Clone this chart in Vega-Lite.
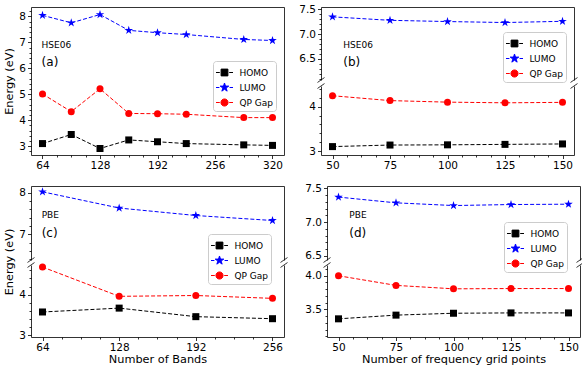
{
"$schema":"https://vega.github.io/schema/vega-lite/v6.json",
"padding":{"left":3,"top":4,"right":0,"bottom":0},
"config":{"font":"DejaVu Sans","view":{"stroke":null},
"axis":{"grid":false,"domainColor":"black","domainWidth":0.8,"tickColor":"black","tickWidth":0.8,"labelColor":"black","labelFontSize":10.5,"labelPadding":2,"labelFont":"DejaVu Sans","labelOverlap":false,"labelFlush":false,"titleFont":"DejaVu Sans","titleFontSize":11.3,"titleFontWeight":"normal","titleColor":"black","titlePadding":4},
"axisX":{"titlePadding":0},
"text":{"font":"DejaVu Sans","color":"black"}},
"datasets":{
"a":[{"n":64,"s":"HOMO","E":3.10},{"n":96,"s":"HOMO","E":3.45},{"n":128,"s":"HOMO","E":2.91},{"n":160,"s":"HOMO","E":3.24},{"n":192,"s":"HOMO","E":3.17},{"n":224,"s":"HOMO","E":3.10},{"n":288,"s":"HOMO","E":3.05},{"n":320,"s":"HOMO","E":3.03},
{"n":64,"s":"LUMO","E":8.04},{"n":96,"s":"LUMO","E":7.75},{"n":128,"s":"LUMO","E":8.07},{"n":160,"s":"LUMO","E":7.46},{"n":192,"s":"LUMO","E":7.37},{"n":224,"s":"LUMO","E":7.30},{"n":288,"s":"LUMO","E":7.11},{"n":320,"s":"LUMO","E":7.07},
{"n":64,"s":"QP Gap","E":5.01},{"n":96,"s":"QP Gap","E":4.33},{"n":128,"s":"QP Gap","E":5.21},{"n":160,"s":"QP Gap","E":4.26},{"n":192,"s":"QP Gap","E":4.25},{"n":224,"s":"QP Gap","E":4.23},{"n":288,"s":"QP Gap","E":4.10},{"n":320,"s":"QP Gap","E":4.10}],
"b":[{"n":50,"s":"HOMO","E":3.10},{"n":75,"s":"HOMO","E":3.135},{"n":100,"s":"HOMO","E":3.14},{"n":125,"s":"HOMO","E":3.15},{"n":150,"s":"HOMO","E":3.16},
{"n":50,"s":"LUMO","E":7.35},{"n":75,"s":"LUMO","E":7.28},{"n":100,"s":"LUMO","E":7.255},{"n":125,"s":"LUMO","E":7.235},{"n":150,"s":"LUMO","E":7.26},
{"n":50,"s":"QP Gap","E":4.25},{"n":75,"s":"QP Gap","E":4.14},{"n":100,"s":"QP Gap","E":4.105},{"n":125,"s":"QP Gap","E":4.09},{"n":150,"s":"QP Gap","E":4.10}],
"c":[{"n":64,"s":"HOMO","E":3.575},{"n":128,"s":"HOMO","E":3.67},{"n":192,"s":"HOMO","E":3.46},{"n":256,"s":"HOMO","E":3.41},
{"n":64,"s":"LUMO","E":8.02},{"n":128,"s":"LUMO","E":7.63},{"n":192,"s":"LUMO","E":7.45},{"n":256,"s":"LUMO","E":7.33},
{"n":64,"s":"QP Gap","E":4.68},{"n":128,"s":"QP Gap","E":3.96},{"n":192,"s":"QP Gap","E":3.98},{"n":256,"s":"QP Gap","E":3.91}],
"d":[{"n":50,"s":"HOMO","E":3.36},{"n":75,"s":"HOMO","E":3.415},{"n":100,"s":"HOMO","E":3.443},{"n":125,"s":"HOMO","E":3.448},{"n":150,"s":"HOMO","E":3.448},
{"n":50,"s":"LUMO","E":7.37},{"n":75,"s":"LUMO","E":7.285},{"n":100,"s":"LUMO","E":7.245},{"n":125,"s":"LUMO","E":7.26},{"n":150,"s":"LUMO","E":7.265},
{"n":50,"s":"QP Gap","E":4.0},{"n":75,"s":"QP Gap","E":3.857},{"n":100,"s":"QP Gap","E":3.806},{"n":125,"s":"QP Gap","E":3.81},{"n":150,"s":"QP Gap","E":3.81}]
},
"resolve":{"scale":{"color":"independent","shape":"independent"},"legend":{"color":"independent","shape":"independent"}},
"spacing":12,
"vconcat":[
{"hconcat":[
{"width":253,"height":148,
"layer":[
{"data":{"name":"a"},"mark":{"type":"line","strokeWidth":1,"strokeDash":[4,2]},
"encoding":{
"x":{"field":"n","type":"quantitative","scale":{"domain":[51.2,332.8],"nice":false,"zero":false},"axis":{"values":[64,80,96,112,128,144,160,176,192,208,224,240,256,272,288,304,320],"labelExpr":"datum.value%64===0?format(datum.value,'d'):''","tickSize":{"condition":{"test":"datum.value%64!==0","value":2},"value":3.5},"title":null}},
"y":{"field":"E","type":"quantitative","scale":{"domain":[2.66,8.36],"nice":false,"zero":false},"axis":{"values":[2.8,3,3.2,3.4,3.6,3.8,4,4.2,4.4,4.6,4.8,5,5.2,5.4,5.6,5.8,6,6.2,6.4,6.6,6.8,7,7.2,7.4,7.6,7.8,8,8.2],"labelExpr":"abs(datum.value-round(datum.value))<0.001?format(datum.value,'d'):''","tickSize":{"condition":{"test":"abs(datum.value-round(datum.value))>0.001","value":2},"value":3.5},"title":"Energy (eV)"}},
"color":{"field":"s","type":"nominal","scale":{"domain":["HOMO","LUMO","QP Gap"],"range":["black","blue","red"]},
"legend":{"orient":"none","legendX":182,"legendY":54,"title":null,"labelFontSize":9,"labelFont":"DejaVu Sans","labelColor":"black","symbolSize":289,"labelOffset":6,"rowPadding":-1.5,"padding":2.5,"strokeColor":"#cccccc","fillColor":"rgba(255,255,255,0.8)","cornerRadius":3,
"encode":{"symbols":{"update":{"shape":{"signal":"datum.value==='HOMO'?'M-1,0H-0.55M0.55,0H1M-0.4,-0.4H0.4V0.4H-0.4Z':datum.value==='LUMO'?'M-1,0H-0.6M0.6,0H1M0,-0.53L0.119,-0.164L0.504,-0.164L0.192,0.063L0.312,0.429L0,0.202L-0.312,0.429L-0.192,0.063L-0.504,-0.164L-0.119,-0.164Z':'M-1,0H-0.55M0.55,0H1M0.42,0A0.42,0.42,0,1,1,-0.42,0A0.42,0.42,0,1,1,0.42,0Z'"},"size":{"value":289},"stroke":{"signal":"datum.value==='HOMO'?'black':datum.value==='LUMO'?'blue':'red'"},"strokeWidth":{"value":1},"opacity":{"value":1}}}}}}}},
{"data":{"name":"a"},"mark":{"type":"point","filled":true,"size":49,"opacity":1},
"encoding":{
"x":{"field":"n","type":"quantitative","scale":{"domain":[51.2,332.8],"nice":false,"zero":false},"axis":{"orient":"top","labels":false,"ticks":false,"title":null}},
"y":{"field":"E","type":"quantitative","scale":{"domain":[2.66,8.36],"nice":false,"zero":false},"axis":{"orient":"right","labels":false,"ticks":false,"title":null}},
"color":{"field":"s","type":"nominal","scale":{"domain":["HOMO","LUMO","QP Gap"],"range":["black","blue","red"]}},
"shape":{"field":"s","type":"nominal","scale":{"domain":["LUMO","HOMO","QP Gap"],"range":["M0,-1.29L0.29,-0.399L1.227,-0.399L0.468,0.152L0.759,1.044L0,0.493L-0.759,1.044L-0.468,0.152L-1.227,-0.399L-0.29,-0.399Z","square","circle"]},"legend":null}}},
{"data":{"values":[{"t":"HSE06"}]},"mark":{"type":"text","align":"left","baseline":"middle","fontSize":9},
"encoding":{"x":{"datum":63,"type":"quantitative","axis":null},"y":{"datum":6.9,"type":"quantitative","axis":null},"text":{"field":"t"}}},
{"data":{"values":[{"t":"(a)"}]},"mark":{"type":"text","align":"left","baseline":"middle","fontSize":12},
"encoding":{"x":{"datum":63,"type":"quantitative","axis":null},"y":{"datum":6.24,"type":"quantitative","axis":null},"text":{"field":"t"}}}
],
"resolve":{"axis":{"x":"independent","y":"independent"}}},
{"vconcat":[
{"width":253,"height":73,
"layer":[
{"data":{"name":"b"},"transform":[{"filter":{"field":"s","equal":"LUMO"}}],"mark":{"type":"line","strokeWidth":1,"strokeDash":[4,2]},
"encoding":{
"x":{"field":"n","type":"quantitative","scale":{"domain":[45,155],"nice":false,"zero":false},"axis":null},
"y":{"field":"E","type":"quantitative","scale":{"domain":[6.07,7.55],"nice":false,"zero":false},"axis":{"values":[6.1,6.2,6.3,6.4,6.5,6.6,6.7,6.8,6.9,7,7.1,7.2,7.3,7.4,7.5],"labelExpr":"abs(datum.value*2-round(datum.value*2))<0.001?format(datum.value,'.1f'):''","tickSize":{"condition":{"test":"abs(datum.value*2-round(datum.value*2))>0.001","value":2},"value":3.5},"title":null}},
"color":{"field":"s","type":"nominal","scale":{"domain":["HOMO","LUMO","QP Gap"],"range":["black","blue","red"]},
"legend":{"orient":"none","legendX":182,"legendY":25,"title":null,"labelFontSize":9,"labelFont":"DejaVu Sans","labelColor":"black","symbolSize":289,"labelOffset":6,"rowPadding":-1.5,"padding":2.5,"strokeColor":"#cccccc","fillColor":"rgba(255,255,255,0.8)","cornerRadius":3,
"encode":{"symbols":{"update":{"shape":{"signal":"datum.value==='HOMO'?'M-1,0H-0.55M0.55,0H1M-0.4,-0.4H0.4V0.4H-0.4Z':datum.value==='LUMO'?'M-1,0H-0.6M0.6,0H1M0,-0.53L0.119,-0.164L0.504,-0.164L0.192,0.063L0.312,0.429L0,0.202L-0.312,0.429L-0.192,0.063L-0.504,-0.164L-0.119,-0.164Z':'M-1,0H-0.55M0.55,0H1M0.42,0A0.42,0.42,0,1,1,-0.42,0A0.42,0.42,0,1,1,0.42,0Z'"},"size":{"value":289},"stroke":{"signal":"datum.value==='HOMO'?'black':datum.value==='LUMO'?'blue':'red'"},"strokeWidth":{"value":1},"opacity":{"value":1}}}}}}}},
{"data":{"name":"b"},"transform":[{"filter":{"field":"s","equal":"LUMO"}}],"mark":{"type":"point","filled":true,"size":49,"opacity":1},
"encoding":{
"x":{"field":"n","type":"quantitative","scale":{"domain":[45,155],"nice":false,"zero":false},"axis":{"orient":"top","labels":false,"ticks":false,"title":null}},
"y":{"field":"E","type":"quantitative","scale":{"domain":[6.07,7.55],"nice":false,"zero":false},"axis":{"orient":"right","labels":false,"ticks":false,"title":null}},
"color":{"field":"s","type":"nominal","scale":{"domain":["HOMO","LUMO","QP Gap"],"range":["black","blue","red"]}},
"shape":{"field":"s","type":"nominal","scale":{"domain":["LUMO","HOMO","QP Gap"],"range":["M0,-1.29L0.29,-0.399L1.227,-0.399L0.468,0.152L0.759,1.044L0,0.493L-0.759,1.044L-0.468,0.152L-1.227,-0.399L-0.29,-0.399Z","square","circle"]},"legend":null}}},
{"data":{"values":[{"t":"HSE06"}]},"mark":{"type":"text","align":"left","baseline":"middle","fontSize":9},
"encoding":{"x":{"datum":54.7,"type":"quantitative","axis":null},"y":{"datum":6.78,"type":"quantitative","axis":null},"text":{"field":"t"}}},
{"data":{"values":[{"t":"(b)"}]},"mark":{"type":"text","align":"left","baseline":"middle","fontSize":12},
"encoding":{"x":{"datum":54.7,"type":"quantitative","axis":null},"y":{"datum":6.43,"type":"quantitative","axis":null},"text":{"field":"t"}}},
{"data":{"values":[{"k":"break"}]},"mark":{"type":"point","shape":"M-1,0.7L1,-0.7","size":49,"filled":false,"stroke":"black","strokeWidth":0.8,"opacity":1},
"encoding":{"x":{"datum":45,"type":"quantitative","axis":null},"y":{"datum":6.07,"type":"quantitative","axis":null}}},
{"data":{"values":[{"k":"break"}]},"mark":{"type":"point","shape":"M-1,0.7L1,-0.7","size":49,"filled":false,"stroke":"black","strokeWidth":0.8,"opacity":1},
"encoding":{"x":{"datum":155,"type":"quantitative","axis":null},"y":{"datum":6.07,"type":"quantitative","axis":null}}}
],
"resolve":{"axis":{"x":"independent","y":"independent"}}},
{"width":253,"height":69,
"layer":[
{"data":{"name":"b"},"transform":[{"filter":{"field":"s","oneOf":["HOMO","QP Gap"]}}],"mark":{"type":"line","strokeWidth":1,"strokeDash":[4,2]},
"encoding":{
"x":{"field":"n","type":"quantitative","scale":{"domain":[45,155],"nice":false,"zero":false},"axis":{"values":[50,56.25,62.5,68.75,75,81.25,87.5,93.75,100,106.25,112.5,118.75,125,131.25,137.5,143.75,150],"labelExpr":"datum.value%25===0?format(datum.value,'d'):''","tickSize":{"condition":{"test":"datum.value%25!==0","value":2},"value":3.5},"title":null}},
"y":{"field":"E","type":"quantitative","scale":{"domain":[2.91,4.47],"nice":false,"zero":false},"axis":{"values":[3,3.2,3.4,3.6,3.8,4,4.2,4.4],"labelExpr":"abs(datum.value-round(datum.value))<0.001?format(datum.value,'d'):''","tickSize":{"condition":{"test":"abs(datum.value-round(datum.value))>0.001","value":2},"value":3.5},"title":null}},
"color":{"field":"s","type":"nominal","scale":{"domain":["HOMO","LUMO","QP Gap"],"range":["black","blue","red"]},"legend":null}}},
{"data":{"name":"b"},"transform":[{"filter":{"field":"s","oneOf":["HOMO","QP Gap"]}}],"mark":{"type":"point","filled":true,"size":49,"opacity":1},
"encoding":{
"x":{"field":"n","type":"quantitative","scale":{"domain":[45,155],"nice":false,"zero":false},"axis":null},
"y":{"field":"E","type":"quantitative","scale":{"domain":[2.91,4.47],"nice":false,"zero":false},"axis":{"orient":"right","labels":false,"ticks":false,"title":null}},
"color":{"field":"s","type":"nominal","scale":{"domain":["HOMO","LUMO","QP Gap"],"range":["black","blue","red"]},"legend":null},
"shape":{"field":"s","type":"nominal","scale":{"domain":["LUMO","HOMO","QP Gap"],"range":["M0,-1.29L0.29,-0.399L1.227,-0.399L0.468,0.152L0.759,1.044L0,0.493L-0.759,1.044L-0.468,0.152L-1.227,-0.399L-0.29,-0.399Z","square","circle"]},"legend":null}}},
{"data":{"values":[{"k":"break"}]},"mark":{"type":"point","shape":"M-1,0.7L1,-0.7","size":49,"filled":false,"stroke":"black","strokeWidth":0.8,"opacity":1},
"encoding":{"x":{"datum":45,"type":"quantitative","axis":null},"y":{"datum":4.47,"type":"quantitative","axis":null}}},
{"data":{"values":[{"k":"break"}]},"mark":{"type":"point","shape":"M-1,0.7L1,-0.7","size":49,"filled":false,"stroke":"black","strokeWidth":0.8,"opacity":1},
"encoding":{"x":{"datum":155,"type":"quantitative","axis":null},"y":{"datum":4.47,"type":"quantitative","axis":null}}}
],
"resolve":{"axis":{"x":"independent","y":"independent"}}}
],"spacing":6,"bounds":"flush",
"resolve":{"scale":{"color":"independent","shape":"independent"},"legend":{"color":"independent","shape":"independent"}}}
],"spacing":14,
"resolve":{"scale":{"color":"independent","shape":"independent"},"legend":{"color":"independent","shape":"independent"}}},
{"hconcat":[
{"vconcat":[
{"width":253,"height":74,
"layer":[
{"data":{"name":"c"},"transform":[{"filter":{"field":"s","equal":"LUMO"}}],"mark":{"type":"line","strokeWidth":1,"strokeDash":[4,2]},
"encoding":{
"x":{"field":"n","type":"quantitative","scale":{"domain":[54.4,265.6],"nice":false,"zero":false},"axis":null},
"y":{"field":"E","type":"quantitative","scale":{"domain":[6.38,8.16],"nice":false,"zero":false},"axis":{"values":[6.4,6.6,6.8,7,7.2,7.4,7.6,7.8,8],"labelExpr":"abs(datum.value-round(datum.value))<0.001?format(datum.value,'d'):''","tickSize":{"condition":{"test":"abs(datum.value-round(datum.value))>0.001","value":2},"value":3.5},"title":null}},
"color":{"field":"s","type":"nominal","scale":{"domain":["HOMO","LUMO","QP Gap"],"range":["black","blue","red"]},
"legend":{"orient":"none","legendX":177,"legendY":48,"title":null,"labelFontSize":9,"labelFont":"DejaVu Sans","labelColor":"black","symbolSize":289,"labelOffset":6,"rowPadding":-1.5,"padding":2.5,"strokeColor":"#cccccc","fillColor":"rgba(255,255,255,0.8)","cornerRadius":3,
"encode":{"symbols":{"update":{"shape":{"signal":"datum.value==='HOMO'?'M-1,0H-0.55M0.55,0H1M-0.4,-0.4H0.4V0.4H-0.4Z':datum.value==='LUMO'?'M-1,0H-0.6M0.6,0H1M0,-0.53L0.119,-0.164L0.504,-0.164L0.192,0.063L0.312,0.429L0,0.202L-0.312,0.429L-0.192,0.063L-0.504,-0.164L-0.119,-0.164Z':'M-1,0H-0.55M0.55,0H1M0.42,0A0.42,0.42,0,1,1,-0.42,0A0.42,0.42,0,1,1,0.42,0Z'"},"size":{"value":289},"stroke":{"signal":"datum.value==='HOMO'?'black':datum.value==='LUMO'?'blue':'red'"},"strokeWidth":{"value":1},"opacity":{"value":1}}}}}}}},
{"data":{"name":"c"},"transform":[{"filter":{"field":"s","equal":"LUMO"}}],"mark":{"type":"point","filled":true,"size":49,"opacity":1},
"encoding":{
"x":{"field":"n","type":"quantitative","scale":{"domain":[54.4,265.6],"nice":false,"zero":false},"axis":{"orient":"top","labels":false,"ticks":false,"title":null}},
"y":{"field":"E","type":"quantitative","scale":{"domain":[6.38,8.16],"nice":false,"zero":false},"axis":{"orient":"right","labels":false,"ticks":false,"title":null}},
"color":{"field":"s","type":"nominal","scale":{"domain":["HOMO","LUMO","QP Gap"],"range":["black","blue","red"]}},
"shape":{"field":"s","type":"nominal","scale":{"domain":["LUMO","HOMO","QP Gap"],"range":["M0,-1.29L0.29,-0.399L1.227,-0.399L0.468,0.152L0.759,1.044L0,0.493L-0.759,1.044L-0.468,0.152L-1.227,-0.399L-0.29,-0.399Z","square","circle"]},"legend":null}}},
{"data":{"values":[{"t":"PBE"}]},"mark":{"type":"text","align":"left","baseline":"middle","fontSize":9},
"encoding":{"x":{"datum":63.3,"type":"quantitative","axis":null},"y":{"datum":7.47,"type":"quantitative","axis":null},"text":{"field":"t"}}},
{"data":{"values":[{"t":"(c)"}]},"mark":{"type":"text","align":"left","baseline":"middle","fontSize":12},
"encoding":{"x":{"datum":63.3,"type":"quantitative","axis":null},"y":{"datum":7.02,"type":"quantitative","axis":null},"text":{"field":"t"}}},
{"data":{"values":[{"k":"break"}]},"mark":{"type":"point","shape":"M-1,0.7L1,-0.7","size":49,"filled":false,"stroke":"black","strokeWidth":0.8,"opacity":1},
"encoding":{"x":{"datum":54.4,"type":"quantitative","axis":null},"y":{"datum":6.38,"type":"quantitative","axis":null}}},
{"data":{"values":[{"k":"break"}]},"mark":{"type":"point","shape":"M-1,0.7L1,-0.7","size":49,"filled":false,"stroke":"black","strokeWidth":0.8,"opacity":1},
"encoding":{"x":{"datum":265.6,"type":"quantitative","axis":null},"y":{"datum":6.38,"type":"quantitative","axis":null}}}
],
"resolve":{"axis":{"x":"independent","y":"independent"}}},
{"width":253,"height":72,
"layer":[
{"data":{"name":"c"},"transform":[{"filter":{"field":"s","oneOf":["HOMO","QP Gap"]}}],"mark":{"type":"line","strokeWidth":1,"strokeDash":[4,2]},
"encoding":{
"x":{"field":"n","type":"quantitative","scale":{"domain":[54.4,265.6],"nice":false,"zero":false},"axis":{"values":[64,80,96,112,128,144,160,176,192,208,224,240,256],"labelExpr":"datum.value%64===0?format(datum.value,'d'):''","tickSize":{"condition":{"test":"datum.value%64!==0","value":2},"value":3.5},"title":"Number of Bands"}},
"y":{"field":"E","type":"quantitative","scale":{"domain":[2.96,4.73],"nice":false,"zero":false},"axis":{"values":[3,3.2,3.4,3.6,3.8,4,4.2,4.4,4.6],"labelExpr":"abs(datum.value-round(datum.value))<0.001?format(datum.value,'d'):''","tickSize":{"condition":{"test":"abs(datum.value-round(datum.value))>0.001","value":2},"value":3.5},"title":"Energy (eV)","titleY":-3.5}},
"color":{"field":"s","type":"nominal","scale":{"domain":["HOMO","LUMO","QP Gap"],"range":["black","blue","red"]},"legend":null}}},
{"data":{"name":"c"},"transform":[{"filter":{"field":"s","oneOf":["HOMO","QP Gap"]}}],"mark":{"type":"point","filled":true,"size":49,"opacity":1},
"encoding":{
"x":{"field":"n","type":"quantitative","scale":{"domain":[54.4,265.6],"nice":false,"zero":false},"axis":null},
"y":{"field":"E","type":"quantitative","scale":{"domain":[2.96,4.73],"nice":false,"zero":false},"axis":{"orient":"right","labels":false,"ticks":false,"title":null}},
"color":{"field":"s","type":"nominal","scale":{"domain":["HOMO","LUMO","QP Gap"],"range":["black","blue","red"]},"legend":null},
"shape":{"field":"s","type":"nominal","scale":{"domain":["LUMO","HOMO","QP Gap"],"range":["M0,-1.29L0.29,-0.399L1.227,-0.399L0.468,0.152L0.759,1.044L0,0.493L-0.759,1.044L-0.468,0.152L-1.227,-0.399L-0.29,-0.399Z","square","circle"]},"legend":null}}},
{"data":{"values":[{"k":"break"}]},"mark":{"type":"point","shape":"M-1,0.7L1,-0.7","size":49,"filled":false,"stroke":"black","strokeWidth":0.8,"opacity":1},
"encoding":{"x":{"datum":54.4,"type":"quantitative","axis":null},"y":{"datum":4.73,"type":"quantitative","axis":null}}},
{"data":{"values":[{"k":"break"}]},"mark":{"type":"point","shape":"M-1,0.7L1,-0.7","size":49,"filled":false,"stroke":"black","strokeWidth":0.8,"opacity":1},
"encoding":{"x":{"datum":265.6,"type":"quantitative","axis":null},"y":{"datum":4.73,"type":"quantitative","axis":null}}}
],
"resolve":{"axis":{"x":"independent","y":"independent"}}}
],"spacing":5,"bounds":"flush",
"resolve":{"scale":{"color":"independent","shape":"independent"},"legend":{"color":"independent","shape":"independent"}}},
{"vconcat":[
{"width":253,"height":74,
"layer":[
{"data":{"name":"d"},"transform":[{"filter":{"field":"s","equal":"LUMO"}}],"mark":{"type":"line","strokeWidth":1,"strokeDash":[4,2]},
"encoding":{
"x":{"field":"n","type":"quantitative","scale":{"domain":[45,155],"nice":false,"zero":false},"axis":null},
"y":{"field":"E","type":"quantitative","scale":{"domain":[6.44,7.534],"nice":false,"zero":false},"axis":{"values":[6.5,6.6,6.7,6.8,6.9,7,7.1,7.2,7.3,7.4,7.5],"labelExpr":"abs(datum.value*2-round(datum.value*2))<0.001?format(datum.value,'.1f'):''","tickSize":{"condition":{"test":"abs(datum.value*2-round(datum.value*2))>0.001","value":2},"value":3.5},"title":null}},
"color":{"field":"s","type":"nominal","scale":{"domain":["HOMO","LUMO","QP Gap"],"range":["black","blue","red"]},
"legend":{"orient":"none","legendX":177,"legendY":36,"title":null,"labelFontSize":9,"labelFont":"DejaVu Sans","labelColor":"black","symbolSize":289,"labelOffset":6,"rowPadding":-1.5,"padding":2.5,"strokeColor":"#cccccc","fillColor":"rgba(255,255,255,0.8)","cornerRadius":3,
"encode":{"symbols":{"update":{"shape":{"signal":"datum.value==='HOMO'?'M-1,0H-0.55M0.55,0H1M-0.4,-0.4H0.4V0.4H-0.4Z':datum.value==='LUMO'?'M-1,0H-0.6M0.6,0H1M0,-0.53L0.119,-0.164L0.504,-0.164L0.192,0.063L0.312,0.429L0,0.202L-0.312,0.429L-0.192,0.063L-0.504,-0.164L-0.119,-0.164Z':'M-1,0H-0.55M0.55,0H1M0.42,0A0.42,0.42,0,1,1,-0.42,0A0.42,0.42,0,1,1,0.42,0Z'"},"size":{"value":289},"stroke":{"signal":"datum.value==='HOMO'?'black':datum.value==='LUMO'?'blue':'red'"},"strokeWidth":{"value":1},"opacity":{"value":1}}}}}}}},
{"data":{"name":"d"},"transform":[{"filter":{"field":"s","equal":"LUMO"}}],"mark":{"type":"point","filled":true,"size":49,"opacity":1},
"encoding":{
"x":{"field":"n","type":"quantitative","scale":{"domain":[45,155],"nice":false,"zero":false},"axis":{"orient":"top","labels":false,"ticks":false,"title":null}},
"y":{"field":"E","type":"quantitative","scale":{"domain":[6.44,7.534],"nice":false,"zero":false},"axis":{"orient":"right","labels":false,"ticks":false,"title":null}},
"color":{"field":"s","type":"nominal","scale":{"domain":["HOMO","LUMO","QP Gap"],"range":["black","blue","red"]}},
"shape":{"field":"s","type":"nominal","scale":{"domain":["LUMO","HOMO","QP Gap"],"range":["M0,-1.29L0.29,-0.399L1.227,-0.399L0.468,0.152L0.759,1.044L0,0.493L-0.759,1.044L-0.468,0.152L-1.227,-0.399L-0.29,-0.399Z","square","circle"]},"legend":null}}},
{"data":{"values":[{"t":"PBE"}]},"mark":{"type":"text","align":"left","baseline":"middle","fontSize":9},
"encoding":{"x":{"datum":54.7,"type":"quantitative","axis":null},"y":{"datum":7.11,"type":"quantitative","axis":null},"text":{"field":"t"}}},
{"data":{"values":[{"t":"(d)"}]},"mark":{"type":"text","align":"left","baseline":"middle","fontSize":12},
"encoding":{"x":{"datum":54.7,"type":"quantitative","axis":null},"y":{"datum":6.835,"type":"quantitative","axis":null},"text":{"field":"t"}}},
{"data":{"values":[{"k":"break"}]},"mark":{"type":"point","shape":"M-1,0.7L1,-0.7","size":49,"filled":false,"stroke":"black","strokeWidth":0.8,"opacity":1},
"encoding":{"x":{"datum":45,"type":"quantitative","axis":null},"y":{"datum":6.44,"type":"quantitative","axis":null}}},
{"data":{"values":[{"k":"break"}]},"mark":{"type":"point","shape":"M-1,0.7L1,-0.7","size":49,"filled":false,"stroke":"black","strokeWidth":0.8,"opacity":1},
"encoding":{"x":{"datum":155,"type":"quantitative","axis":null},"y":{"datum":6.44,"type":"quantitative","axis":null}}}
],
"resolve":{"axis":{"x":"independent","y":"independent"}}},
{"width":253,"height":72,
"layer":[
{"data":{"name":"d"},"transform":[{"filter":{"field":"s","oneOf":["HOMO","QP Gap"]}}],"mark":{"type":"line","strokeWidth":1,"strokeDash":[4,2]},
"encoding":{
"x":{"field":"n","type":"quantitative","scale":{"domain":[45,155],"nice":false,"zero":false},"axis":{"values":[50,56.25,62.5,68.75,75,81.25,87.5,93.75,100,106.25,112.5,118.75,125,131.25,137.5,143.75,150],"labelExpr":"datum.value%25===0?format(datum.value,'d'):''","tickSize":{"condition":{"test":"datum.value%25!==0","value":2},"value":3.5},"title":"Number of frequency grid points"}},
"y":{"field":"E","type":"quantitative","scale":{"domain":[3.09,4.16],"nice":false,"zero":false},"axis":{"values":[3.1,3.2,3.3,3.4,3.5,3.6,3.7,3.8,3.9,4,4.1],"labelExpr":"abs(datum.value*2-round(datum.value*2))<0.001?format(datum.value,'.1f'):''","tickSize":{"condition":{"test":"abs(datum.value*2-round(datum.value*2))>0.001","value":2},"value":3.5},"title":null}},
"color":{"field":"s","type":"nominal","scale":{"domain":["HOMO","LUMO","QP Gap"],"range":["black","blue","red"]},"legend":null}}},
{"data":{"name":"d"},"transform":[{"filter":{"field":"s","oneOf":["HOMO","QP Gap"]}}],"mark":{"type":"point","filled":true,"size":49,"opacity":1},
"encoding":{
"x":{"field":"n","type":"quantitative","scale":{"domain":[45,155],"nice":false,"zero":false},"axis":null},
"y":{"field":"E","type":"quantitative","scale":{"domain":[3.09,4.16],"nice":false,"zero":false},"axis":{"orient":"right","labels":false,"ticks":false,"title":null}},
"color":{"field":"s","type":"nominal","scale":{"domain":["HOMO","LUMO","QP Gap"],"range":["black","blue","red"]},"legend":null},
"shape":{"field":"s","type":"nominal","scale":{"domain":["LUMO","HOMO","QP Gap"],"range":["M0,-1.29L0.29,-0.399L1.227,-0.399L0.468,0.152L0.759,1.044L0,0.493L-0.759,1.044L-0.468,0.152L-1.227,-0.399L-0.29,-0.399Z","square","circle"]},"legend":null}}},
{"data":{"values":[{"k":"break"}]},"mark":{"type":"point","shape":"M-1,0.7L1,-0.7","size":49,"filled":false,"stroke":"black","strokeWidth":0.8,"opacity":1},
"encoding":{"x":{"datum":45,"type":"quantitative","axis":null},"y":{"datum":4.16,"type":"quantitative","axis":null}}},
{"data":{"values":[{"k":"break"}]},"mark":{"type":"point","shape":"M-1,0.7L1,-0.7","size":49,"filled":false,"stroke":"black","strokeWidth":0.8,"opacity":1},
"encoding":{"x":{"datum":155,"type":"quantitative","axis":null},"y":{"datum":4.16,"type":"quantitative","axis":null}}}
],
"resolve":{"axis":{"x":"independent","y":"independent"}}}
],"spacing":5,"bounds":"flush",
"resolve":{"scale":{"color":"independent","shape":"independent"},"legend":{"color":"independent","shape":"independent"}}}
],"spacing":14,
"resolve":{"scale":{"color":"independent","shape":"independent"},"legend":{"color":"independent","shape":"independent"}}}
]
}
